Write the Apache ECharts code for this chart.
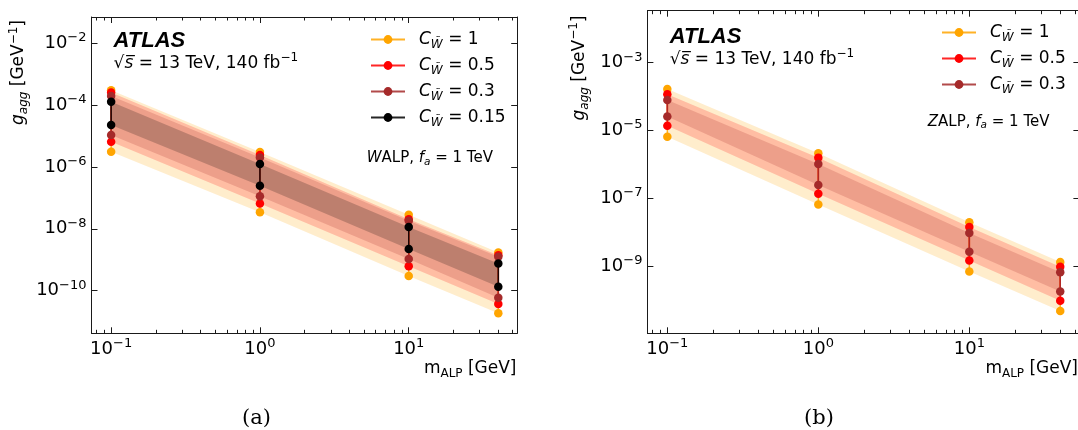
<!DOCTYPE html>
<html><head><meta charset="utf-8">
<script src="https://cdn.jsdelivr.net/npm/echarts@6/dist/echarts.min.js"></script>
<style>html,body{margin:0;padding:0;background:#fff}#c{width:1078px;height:430px}</style>
</head><body><div id="c"></div>
<script>
// ---------------- data ----------------
const masses = [0.1, 1, 10, 40];               // m_ALP [GeV]
const xMajorTicks = [0.1, 1, 10];
const xMinorTicks = [0.08, 0.09, 0.2, 0.3, 0.4, 0.5, 0.6, 0.7, 0.8, 0.9, 2, 3, 4, 5, 6, 7, 8, 9, 20, 30, 40, 50];
const walpYTicks = [1e-10, 1e-8, 1e-6, 1e-4, 1e-2];
const zalpYTicks = [1e-9, 1e-7, 1e-5, 1e-3];
const cwLabels = ['1', '0.5', '0.3', '0.15'];
const colors = ['#FFA500', '#FF0000', '#A52A2A', '#000000'];
const bandFills = ['rgba(255,165,0,0.2)', 'rgba(255,0,0,0.2)', 'rgba(165,42,42,0.2)', 'rgba(0,0,0,0.2)'];

// WALP (a): upper / lower g_agg per coupling
const walpC1Top   = [2.95e-4, 3.02e-6, 2.82e-8, 1.70e-9];
const walpC1Bot   = [3.1e-6, 3.4e-8, 3.0e-10, 1.86e-11];
const walpC05Top  = [2.51e-4, 2.40e-6, 2.04e-8, 1.41e-9];
const walpC05Bot  = [6.5e-6, 6.6e-8, 6.2e-10, 3.7e-11];
const walpC03Top  = [1.95e-4, 2.0e-6, 1.82e-8, 1.26e-9];
const walpC03Bot  = [1.07e-5, 1.12e-7, 1.05e-9, 5.9e-11];
const walpC015Top = [1.26e-4, 1.23e-6, 1.15e-8, 7.6e-10];
const walpC015Bot = [2.24e-5, 2.45e-7, 2.24e-9, 1.35e-10];

// ZALP (b)
const zalpC1Top  = [1.66e-4, 2.14e-6, 1.95e-8, 1.32e-9];
const zalpC1Bot  = [6.5e-6, 6.5e-8, 6.9e-10, 4.7e-11];
const zalpC05Top = [1.17e-4, 1.58e-6, 1.41e-8, 9.5e-10];
const zalpC05Bot = [1.38e-5, 1.35e-7, 1.45e-9, 9.5e-11];
const zalpC03Top = [7.9e-5, 1.02e-6, 9.5e-9, 6.6e-10];
const zalpC03Bot = [2.57e-5, 2.45e-7, 2.63e-9, 1.78e-10];

// ---------------- helpers ----------------
const lg = v => Math.log10(v);
const FONT = 'DejaVu Sans';
const MINUS = '\u2212';
function expStr(e) { return e < 0 ? MINUS + (-e) : String(e); }
const tickRich = {
  b: { fontFamily: FONT, fontSize: 18, color: '#000', verticalAlign: 'middle' },
  s: { fontFamily: FONT, fontSize: 13, color: '#000', verticalAlign: 'middle', padding: [0, 0, 11, 0] }
};
const tickFmt = v => '{b|10}{s|' + expStr(Math.round(v)) + '}';
const cwRich = {
  it: { fontFamily: FONT, fontSize: 17, fontStyle: 'italic', color: '#000', verticalAlign: 'middle' },
  sub: { fontFamily: FONT, fontSize: 12, fontStyle: 'italic', color: '#000', verticalAlign: 'middle', padding: [10, 0, 0, 0] },
  n: { fontFamily: FONT, fontSize: 17, color: '#000', verticalAlign: 'middle' }
};

const panels = [
  { key: 'W', grid: { left: 91.5, top: 17, width: 425.7, height: 316.3 },
    xr: [-1.132, 1.729], yr: [-11.375, -1.161], yTicks: walpYTicks,
    tops: [walpC1Top, walpC05Top, walpC03Top, walpC015Top],
    bots: [walpC1Bot, walpC05Bot, walpC03Bot, walpC015Bot] },
  { key: 'Z', grid: { left: 647.4, top: 10.7, width: 432, height: 322.6 },
    xr: [-1.132, 1.729], yr: [-10.985, -1.466], yTicks: zalpYTicks,
    tops: [zalpC1Top, zalpC05Top, zalpC03Top],
    bots: [zalpC1Bot, zalpC05Bot, zalpC03Bot] }
];

const grids = [], xAxes = [], yAxes = [], series = [], legends = [];
const axisLineStyle = { color: '#1a1a1a', width: 1 };

panels.forEach((p, gi) => {
  grids.push(Object.assign({ outerBoundsMode: 'none', containLabel: false }, p.grid));
  const xBase = xAxes.length, yBase = yAxes.length;
  const major = xMajorTicks.map(lg), minor = xMinorTicks.map(lg);
  ['bottom', 'top'].forEach(pos => {
    xAxes.push({ gridIndex: gi, type: 'value', position: pos, min: p.xr[0], max: p.xr[1],
      axisLine: { show: true, onZero: false, lineStyle: axisLineStyle },
      axisTick: { show: true, inside: true, length: 6, customValues: major, lineStyle: axisLineStyle },
      axisLabel: { show: pos === 'bottom', customValues: major, formatter: tickFmt, rich: tickRich, margin: 4 },
      splitLine: { show: false } });
    xAxes.push({ gridIndex: gi, type: 'value', position: pos, min: p.xr[0], max: p.xr[1],
      axisLine: { show: false, onZero: false },
      axisTick: { show: true, inside: true, length: 3.5, customValues: minor, lineStyle: axisLineStyle },
      axisLabel: { show: false }, splitLine: { show: false } });
  });
  const yt = p.yTicks.map(lg);
  ['left', 'right'].forEach(pos => {
    yAxes.push({ gridIndex: gi, type: 'value', position: pos, min: p.yr[0], max: p.yr[1],
      axisLine: { show: true, onZero: false, lineStyle: axisLineStyle },
      axisTick: { show: true, inside: true, length: 6, customValues: yt, lineStyle: axisLineStyle },
      axisLabel: { show: pos === 'left', customValues: yt, formatter: tickFmt, rich: tickRich, margin: 5 },
      splitLine: { show: false } });
  });

  const nb = p.tops.length;
  // shaded bands (polygons through the axis scales)
  series.push({
    type: 'custom', xAxisIndex: xBase, yAxisIndex: yBase, silent: true, z: 1,
    data: p.tops.map(t => [lg(masses[0]), lg(t[0])]),
    renderItem: (params, api) => {
      const i = params.dataIndex, t = p.tops[i], b = p.bots[i];
      const pts = [];
      masses.forEach((m, k) => pts.push(api.coord([lg(m), lg(t[k])])));
      for (let k = masses.length - 1; k >= 0; k--) pts.push(api.coord([lg(masses[k]), lg(b[k])]));
      return { type: 'polygon', shape: { points: pts }, style: { fill: bandFills[i], stroke: 'none' } };
    }
  });
  const names = [];
  for (let i = 0; i < nb; i++) {
    const d = [];
    masses.forEach((m, k) => {
      d.push([lg(m), lg(p.tops[i][k])]);
      d.push([lg(m), lg(p.bots[i][k])]);
      d.push([lg(m), '-']);
    });
    const name = p.key + cwLabels[i];
    names.push(name);
    series.push({
      type: 'line', name, xAxisIndex: xBase, yAxisIndex: yBase, z: 3 + i,
      data: d, connectNulls: false, symbol: 'circle', symbolSize: 8.5, showSymbol: true, showAllSymbol: true,
      itemStyle: { color: colors[i] }, lineStyle: { color: colors[i], width: 1.5, opacity: 0.85 },
      emphasis: { disabled: true }, animation: false
    });
  }
  legends.push({
    data: names, orient: 'vertical', selectedMode: false,
    left: gi === 0 ? 370 : 941, top: gi === 0 ? 31 : 24,
    itemWidth: 34, itemHeight: 11, itemGap: 6.5, padding: 0,
    formatter: n => '{it|C}{sub|W\u0303}{n| = ' + n.slice(1) + '}',
    textStyle: { fontFamily: FONT, fontSize: 17, color: '#000', padding: [0, 0, 0, 9], rich: cwRich }
  });
});

// ---------------- annotations ----------------
const annRich = {
  n: { fontFamily: FONT, fontSize: 17, color: '#000', verticalAlign: 'middle' },
  it: { fontFamily: FONT, fontSize: 17, fontStyle: 'italic', color: '#000', verticalAlign: 'middle' },
  sup: { fontFamily: FONT, fontSize: 12, color: '#000', verticalAlign: 'middle', padding: [0, 0, 11, 0] },
  sub: { fontFamily: FONT, fontSize: 12, fontStyle: 'italic', color: '#000', verticalAlign: 'middle', padding: [10, 0, 0, 0] },
  subr: { fontFamily: FONT, fontSize: 12, color: '#000', verticalAlign: 'middle', padding: [10, 0, 0, 0] },
  n15: { fontFamily: FONT, fontSize: 15, color: '#000', verticalAlign: 'middle' },
  it15: { fontFamily: FONT, fontSize: 15, fontStyle: 'italic', color: '#000', verticalAlign: 'middle' },
  sub15: { fontFamily: FONT, fontSize: 10.5, fontStyle: 'italic', color: '#000', verticalAlign: 'middle', padding: [8, 0, 0, 0] }
};
function txt(x, y, text, opts) {
  return Object.assign({ type: 'text', x, y, silent: true,
    style: Object.assign({ text, rich: annRich, align: 'left', verticalAlign: 'middle', fill: '#000' }, (opts && opts.style) || {}) },
    (opts && opts.el) || {});
}
const atlasStyle = { font: 'italic bold 22px "Liberation Sans"', fill: '#000' };
const sqrtS = '{n|\u221A}{it|s\u0305}{n| = 13 TeV, 140 fb}{sup|' + MINUS + '1}';
const yTitle = '{it|g}{sub|agg}{n| [GeV}{sup|' + MINUS + '1}{n|]}';
const xTitle = '{n|m}{subr|ALP}{n| [GeV]}';
const graphics = [
  { type: 'text', x: 113.6, y: 41.3, silent: true, style: Object.assign({ text: 'ATLAS', verticalAlign: 'middle' }, atlasStyle) },
  txt(113.6, 63.3, sqrtS),
  txt(366.7, 158.3, '{it15|W}{n15|ALP, }{it15|f}{sub15|a}{n15| = 1 TeV}'),
  txt(19, 72.5, yTitle, { style: { align: 'center' }, el: { rotation: Math.PI / 2 } }),
  txt(516.5, 369, xTitle, { style: { align: 'right' } }),
  { type: 'text', x: 669.7, y: 36.7, silent: true, style: Object.assign({ text: 'ATLAS', verticalAlign: 'middle' }, atlasStyle) },
  txt(669.7, 59.3, sqrtS),
  txt(927.8, 121.7, '{it15|Z}{n15|ALP, }{it15|f}{sub15|a}{n15| = 1 TeV}'),
  txt(579.5, 68, yTitle, { style: { align: 'center' }, el: { rotation: Math.PI / 2 } }),
  txt(1078, 369, xTitle, { style: { align: 'right' } }),
  { type: 'text', x: 256.5, y: 419, silent: true, style: { text: '(a)', font: '21px "DejaVu Serif"', fill: '#000', align: 'center', verticalAlign: 'middle' } },
  { type: 'text', x: 819, y: 419, silent: true, style: { text: '(b)', font: '21px "DejaVu Serif"', fill: '#000', align: 'center', verticalAlign: 'middle' } }
];

const chart = echarts.init(document.getElementById('c'), null, { renderer: 'canvas' });
chart.setOption({
  animation: false, backgroundColor: '#fff',
  grid: grids, xAxis: xAxes, yAxis: yAxes, series, legend: legends, graphic: graphics,
  tooltip: { show: false }
});
</script></body></html>
